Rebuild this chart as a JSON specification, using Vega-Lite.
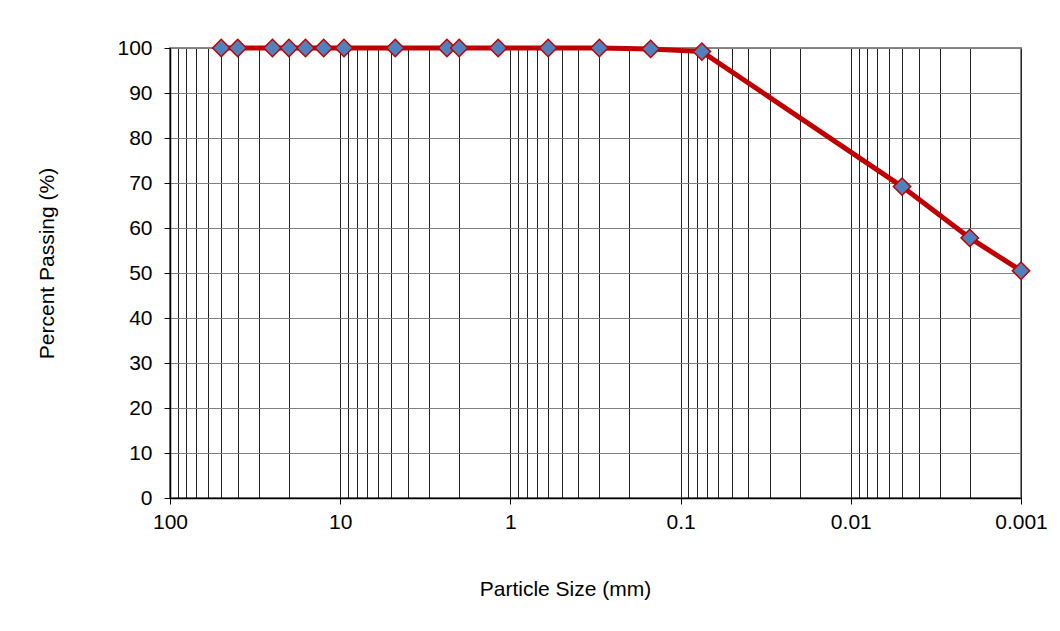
{
  "$schema": "https://vega.github.io/schema/vega-lite/v6.json",
  "autosize": "none",
  "width": 851,
  "height": 450,
  "padding": {"left": 170, "top": 48, "right": 39, "bottom": 133},
  "background": "white",
  "config": {
    "font": "Liberation Sans",
    "view": {"stroke": "#888888", "strokeWidth": 2},
    "axis": {"labelFont": "Liberation Sans", "titleFont": "Liberation Sans", "labelFontSize": 21, "titleFontSize": 21, "titleFontWeight": "normal", "labelColor": "#000", "titleColor": "#000"}
  },
  "data": {
    "values": [
      {"size": 50, "passing": 100},
      {"size": 40, "passing": 100},
      {"size": 25, "passing": 100},
      {"size": 20, "passing": 100},
      {"size": 16, "passing": 100},
      {"size": 12.5, "passing": 100},
      {"size": 9.5, "passing": 100},
      {"size": 4.75, "passing": 100},
      {"size": 2.36, "passing": 100},
      {"size": 2.0, "passing": 100},
      {"size": 1.18, "passing": 100},
      {"size": 0.6, "passing": 100},
      {"size": 0.3, "passing": 100},
      {"size": 0.15, "passing": 99.8},
      {"size": 0.075, "passing": 99.2},
      {"size": 0.005, "passing": 69.2},
      {"size": 0.002, "passing": 57.8},
      {"size": 0.001, "passing": 50.5}
    ]
  },
  "encoding": {
    "x": {
      "field": "size",
      "type": "quantitative",
      "title": "Particle Size (mm)",
      "scale": {"type": "log", "domain": [100, 0.001], "nice": false},
      "axis": {
        "values": [100, 90, 80, 70, 60, 50, 40, 30, 20, 10, 9, 8, 7, 6, 5, 4, 3, 2, 1, 0.9, 0.8, 0.7, 0.6, 0.5, 0.4, 0.3, 0.2, 0.1, 0.09, 0.08, 0.07, 0.06, 0.05, 0.04, 0.03, 0.02, 0.01, 0.009, 0.008, 0.007, 0.006, 0.005, 0.004, 0.003, 0.002, 0.001],
        "format": "~g",
        "labelExpr": "abs(log(datum.value)/LN10 - round(log(datum.value)/LN10)) < 0.001 ? datum.label : ''",
        "labelOverlap": false,
        "labelFlush": false,
        "labelPadding": 7,
        "grid": true,
        "gridColor": "#222222",
        "gridWidth": 1,
        "tickSize": 6,
        "tickColor": "#000",
        "tickOpacity": {"condition": {"test": "abs(log(datum.value)/LN10 - round(log(datum.value)/LN10)) < 0.001", "value": 1}, "value": 0},
        "domainColor": "#000",
        "domainWidth": 1.5,
        "titlePadding": 46,
        "titleX": 395
      }
    },
    "y": {
      "field": "passing",
      "type": "quantitative",
      "title": "Percent Passing (%)",
      "scale": {"domain": [0, 100], "nice": false},
      "axis": {
        "values": [0, 10, 20, 30, 40, 50, 60, 70, 80, 90, 100],
        "grid": true,
        "gridColor": "#808080",
        "gridWidth": 1.2,
        "tickSize": 6,
        "tickColor": "#000",
        "labelPadding": 12,
        "domainColor": "#000",
        "domainWidth": 1.5,
        "titlePadding": 59,
        "titleY": 215
      }
    }
  },
  "layer": [
    {"mark": {"type": "line", "color": "#C00000", "strokeWidth": 5}},
    {"mark": {"type": "point", "shape": "diamond", "filled": true, "fill": "#4F81BD", "stroke": "#C00000", "strokeWidth": 1.5, "size": 300, "opacity": 1}}
  ]
}
